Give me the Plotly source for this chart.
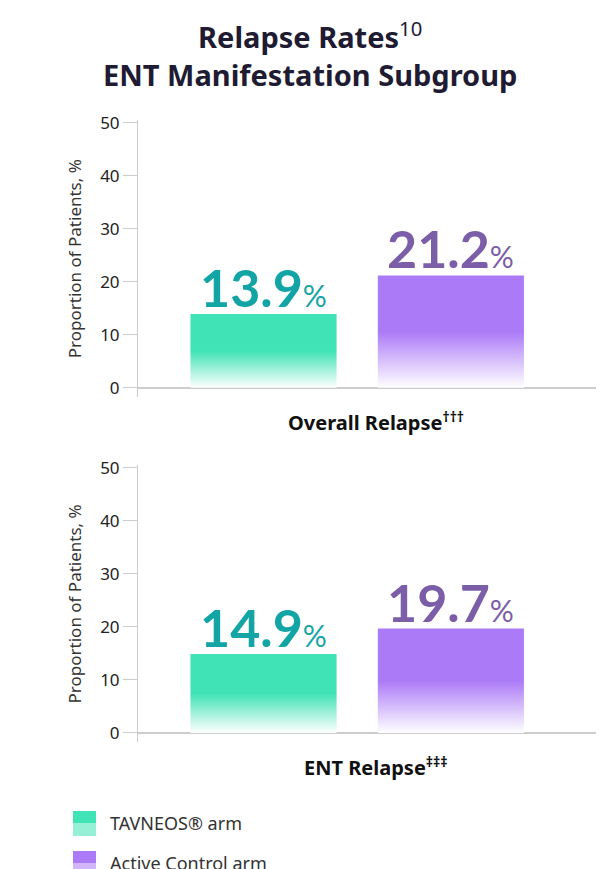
import plotly.graph_objects as go

arms = ["TAVNEOS® arm", "Active Control arm"]
panels = ["Overall Relapse<sup>†††</sup>", "ENT Relapse<sup>‡‡‡</sup>"]
values = [[13.9, 21.2], [14.9, 19.7]]
yticks = [0, 10, 20, 30, 40, 50]
bar_colors = ["#40e3b5", "#ab7af7"]
text_colors = ["#13a5a5", "#7b5ea7"]

W, H = 604, 869
fig = go.Figure()
domains = [[0.552, 0.871], [0.1548, 0.4738]]
half = 0.39
for p, vals in enumerate(values):
    xa = "x" if p == 0 else "x2"
    ya = "y" if p == 0 else "y2"
    for i, v in enumerate(vals):
        fig.add_trace(go.Scatter(
            x=[i - half, i + half], y=[v, v], mode="lines", fill="tozeroy",
            line=dict(width=0, color=bar_colors[i]),
            fillgradient=dict(type="vertical", start=0, stop=v,
                              colorscale=[[0, "rgba(255,255,255,1)"], [0.5, bar_colors[i]], [1, bar_colors[i]]]),
            xaxis=xa, yaxis=ya, showlegend=False, hoverinfo="skip"))
        fig.add_annotation(x=i, y=v, xref=xa, yref=ya, yanchor="bottom", yshift=-6,
                           showarrow=False,
                           text=f"<b>{v}</b><span style='font-size:30px'>%</span>",
                           font=dict(size=52, color=text_colors[i], family="Lato"))
    fig.add_annotation(x=0.6, y=-1.8, xref=xa, yref=ya, yanchor="top", yshift=-8,
                       showarrow=False, text=f"<b>{panels[p]}</b>",
                       font=dict(size=20, color="#111", family="Noto Sans"))

axis_common = dict(range=[-1.8, 50.5], tickvals=yticks, ticks="outside", ticklen=14,
                   tickcolor="#cccccc", showline=True, linecolor="#cccccc", linewidth=1,
                   zeroline=True, zerolinecolor="#cccccc", showgrid=False, automargin=False,
                   tickfont=dict(size=17, color="#222", family="Noto Sans"),
                   title=dict(text="Proportion of Patients, %", standoff=14,
                              font=dict(size=17, color="#333", family="Noto Sans")))
xcommon = dict(range=[-0.67, 1.86], showticklabels=False, showgrid=False, zeroline=False,
               showline=False, ticks="", automargin=False, domain=[130 / W, 1])
fig.update_layout(
    width=W, height=H, plot_bgcolor="white", paper_bgcolor="white",
    margin=dict(l=0, r=0, t=0, b=0, autoexpand=False), showlegend=False,
    xaxis=dict(**xcommon, anchor="y"), xaxis2=dict(**xcommon, anchor="y2"),
    yaxis=dict(**axis_common, domain=domains[0], anchor="x"),
    yaxis2=dict(**axis_common, domain=domains[1], anchor="x2"),
)
fig.add_annotation(xref="paper", yref="paper", x=0.5, y=1 - 4 / H, xanchor="center", yanchor="top",
                   showarrow=False,
                   text="<b>Relapse Rates</b><sup>10</sup><br><b>ENT Manifestation Subgroup</b>",
                   font=dict(size=29, color="#1e1b33", family="Noto Sans"))
# custom legend
for k, name in enumerate(arms):
    y0 = 803 + k * 40
    fig.add_shape(type="rect", xref="paper", yref="paper", x0=65 / W, x1=88 / W,
                  y0=1 - (y0 + 25) / H, y1=1 - y0 / H, line=dict(width=0),
                  fillcolor=bar_colors[k])
    fig.add_shape(type="rect", xref="paper", yref="paper", x0=65 / W, x1=88 / W,
                  y0=1 - (y0 + 25) / H, y1=1 - (y0 + 12) / H, line=dict(width=0),
                  fillcolor="rgba(255,255,255,0.45)")
    fig.add_annotation(xref="paper", yref="paper", x=100 / W, y=1 - (y0 + 12) / H,
                       xanchor="left", yanchor="middle", showarrow=False, text=name,
                       font=dict(size=18, color="#333", family="Noto Sans"))
fig.write_html("out.html")
